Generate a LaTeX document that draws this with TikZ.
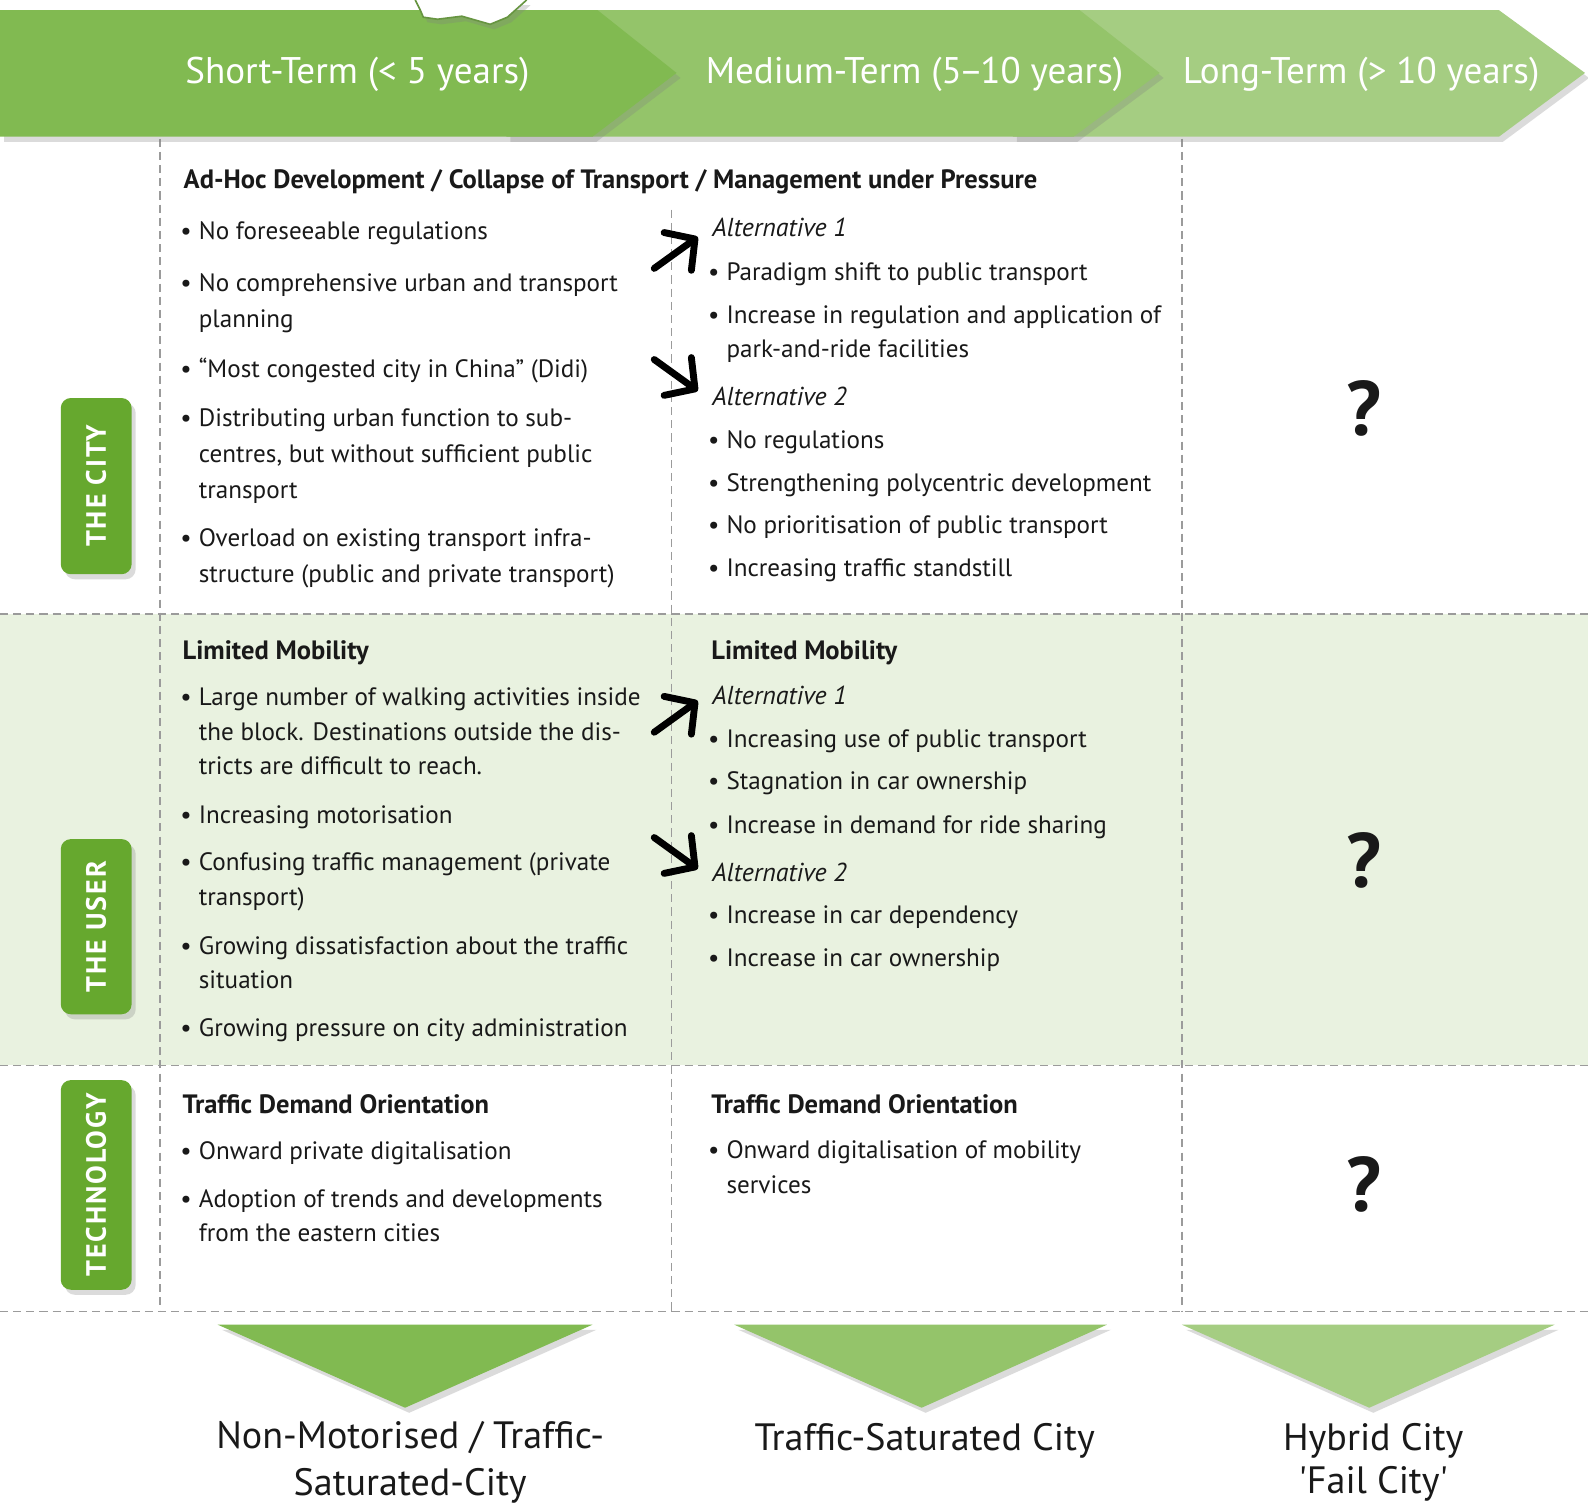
\documentclass[tikz,border=0pt]{standalone}
\usepackage{fontspec}
\setmainfont{PT Sans}
\newfontfamily\sidetagfont[LetterSpace=7]{PT Sans}
\usepackage{tikz}
\usetikzlibrary{arrows.meta, positioning, shadows}

\definecolor{shortgreen}{RGB}{129,186,81}
\definecolor{mediumgreen}{RGB}{148,196,106}
\definecolor{longgreen}{RGB}{165,205,130}
\definecolor{taggreen}{RGB}{102,168,46}
\definecolor{userbg}{RGB}{233,242,224}
\definecolor{gridgray}{RGB}{155,155,155}
\definecolor{ink}{RGB}{25,25,25}

\newcommand{\bul}{\llap{\textbullet\hspace{3.5pt}}}

\begin{document}
\begin{tikzpicture}[x=0.5pt, y=-0.5pt,
    softshadow/.style={drop shadow={opacity=0.28, shadow xshift=2pt, shadow yshift=-2.5pt}},
    gridline/.style={draw=gridgray, line width=0.8pt, dash pattern=on 4pt off 2.5pt},
    termtext/.style={text=white, inner sep=0pt, font=\fontsize{18.3}{21}\selectfont},
    sidetag/.style={fill=taggreen, rounded corners=5pt, softshadow, minimum height=35pt, rotate=90, text=white, font=\sidetagfont\bfseries\fontsize{13.8}{15}\selectfont},
    celltitle/.style={anchor=base west, inner sep=0pt, text=ink, font=\bfseries\fontsize{13.1}{17}\selectfont},
    % multi-line nodes sit on the baseline of their last line
    bullettext/.style={anchor=base west, inner sep=0pt, align=left, text=ink, font=\fontsize{12.4}{17}\selectfont},
    loosetext/.style={bullettext, font=\fontsize{12.4}{17.6}\selectfont},
    alttext/.style={bullettext, font=\itshape\fontsize{12.8}{17}\selectfont},
    qmark/.style={text=ink, inner sep=0pt, font=\bfseries\fontsize{38}{40}\selectfont},
    bigarrow/.style={line width=3.4pt, line cap=round, -{Straight Barb[length=10.5pt, width=23pt, round]}},
    outcome/.style={anchor=base, align=center, inner sep=0pt, text=ink, font=\fontsize{18.8}{24}\selectfont}
]

% Canvas and user row
\useasboundingbox (0,0) rectangle (1568,1487);
\fill[white] (0,0) rectangle (1568,1487);
\fill[userbg] (0,606) rectangle (1568,1052);

% Grid
\draw[gridline] (0,606) -- (1568,606);
\draw[gridline] (0,1052) -- (1568,1052);
\draw[gridline] (0,1295) -- (1568,1295);
\draw[gridline] (158,137) -- (158,1295);
\draw[gridline] (663,207) -- (663,1295);
\draw[gridline] (1167,137) -- (1167,1295);

% Time banner
\fill[longgreen, softshadow] (1000,10) -- (1480,10) -- (1565,72) -- (1480,135) -- (1000,135) -- cycle;
\fill[mediumgreen, softshadow] (500,10) -- (1066,10) -- (1145,72) -- (1060,135) -- (500,135) -- cycle;
\fill[shortgreen, softshadow] (0,10) -- (590,10) -- (668,72) -- (585,135) -- (0,135) -- cycle;
\fill[white, softshadow] (410,0) -- (415,10) -- (418,17) -- (432,19) -- (456,16) -- (484,24) -- (501,17) -- (520,0) -- cycle;
\draw[shortgreen!80!black, line width=0.8pt] (410,0) -- (415,10) -- (418,17) -- (432,19) -- (456,16) -- (484,24) -- (501,17) -- (520,0);

\node (short) [termtext] at (353,73) {Short-Term (< 5 years)};
\node (medium) [termtext] at (903,73) {Medium-Term (5\kern-1.5pt–\kern-1.5pt10 years)};
\node (long) [termtext] at (1344,73) {Long-Term (> 10 years)};

% Side tags
\node (city) [sidetag, minimum width=87pt] at (95,480) {THE CITY};
\node (user) [sidetag, minimum width=86.5pt] at (95,915) {THE USER};
\node (tech) [sidetag, minimum width=103.5pt] at (95,1170) {TECHNOLOGY};

% The city
\node (citytitle) [celltitle] at (181,186) {Ad-Hoc Development / Collapse of Transport / Management under Pressure};
\node (cs1) [loosetext] at (196,236) {\bul No foreseeable regulations};
\node (cs2) [loosetext] at (196,323) {\bul No comprehensive urban and transport\\planning};
\node (cs3) [loosetext] at (196,373) {\bul “Most congested city in China” (Didi)};
\node (cs4) [loosetext] at (196,492) {\bul Distributing urban function to sub-\\centres, but without sufficient public\\transport};
\node (cs5) [loosetext] at (196,575) {\bul Overload on existing transport infra-\\structure (public and private transport)};

\node (calt1) [alttext] at (703,234) {Alternative 1};
\node (cm1) [bullettext] at (717,277) {\bul Paradigm shift to public transport};
\node (cm2) [bullettext] at (717,353) {\bul Increase in regulation and application of\\park-and-ride facilities};
\node (calt2) [alttext] at (703,400) {Alternative 2};
\node (cm3) [bullettext] at (717,443) {\bul No regulations};
\node (cm4) [bullettext] at (717,485) {\bul Strengthening polycentric development};
\node (cm5) [bullettext] at (717,527) {\bul No prioritisation of public transport};
\node (cm6) [bullettext] at (717,569) {\bul Increasing traffic standstill};

\node (cityq) [qmark] at (1347,403) {?};

% The user
\node (usertitle1) [celltitle] at (180,651) {Limited Mobility};
\node (us1) [bullettext] at (196,765) {\bul Large number of walking activities inside\\the block. Destinations outside the dis-\\tricts are difficult to reach.};
\node (us2) [bullettext] at (196,813) {\bul Increasing motorisation};
\node (us3) [bullettext] at (196,894) {\bul Confusing traffic management (private\\transport)};
\node (us4) [bullettext] at (196,976) {\bul Growing dissatisfaction about the traffic\\situation};
\node (us5) [bullettext] at (196,1023) {\bul Growing pressure on city administration};

\node (usertitle2) [celltitle] at (702,651) {Limited Mobility};
\node (ualt1) [alttext] at (703,696) {Alternative 1};
\node (um1) [bullettext] at (717,738) {\bul Increasing use of public transport};
\node (um2) [bullettext] at (717,780) {\bul Stagnation in car ownership};
\node (um3) [bullettext] at (717,823) {\bul Increase in demand for ride sharing};
\node (ualt2) [alttext] at (703,870) {Alternative 2};
\node (um4) [bullettext] at (717,912) {\bul Increase in car dependency};
\node (um5) [bullettext] at (717,954) {\bul Increase in car ownership};

\node (userq) [qmark] at (1347,850) {?};

% Technology
\node (techtitle1) [celltitle] at (180,1099) {Traffic Demand Orientation};
\node (ts1) [bullettext] at (196,1145) {\bul Onward private digitalisation};
\node (ts2) [bullettext] at (196,1226) {\bul Adoption of trends and developments\\from the eastern cities};
\node (techtitle2) [celltitle] at (702,1099) {Traffic Demand Orientation};
\node (tm1) [bullettext] at (717,1178) {\bul Onward digitalisation of mobility\\services};

\node (techq) [qmark] at (1347,1170) {?};

% Branching arrows
\coordinate (cup0) at (646,265);  \coordinate (cup1) at (689,234);
\coordinate (cdn0) at (646,355);  \coordinate (cdn1) at (689,386);
\coordinate (uup0) at (646,723);  \coordinate (uup1) at (689,692);
\coordinate (udn0) at (646,827);  \coordinate (udn1) at (689,858);
\draw[bigarrow] (cup0) -- (cup1);
\draw[bigarrow] (cdn0) -- (cdn1);
\draw[bigarrow] (uup0) -- (uup1);
\draw[bigarrow] (udn0) -- (udn1);

% Outcomes
\fill[shortgreen, softshadow] (215,1308) -- (585,1308) -- (400,1390) -- cycle;
\fill[mediumgreen, softshadow] (725,1308) -- (1093,1308) -- (910,1390) -- cycle;
\fill[longgreen, softshadow] (1167,1308) -- (1535,1308) -- (1352,1390) -- cycle;

\node (nonmot) [outcome, font=\fontsize{18.8}{23.5}\selectfont] at (405,1477) {Non-Motorised / Traffic-\\Saturated-City};
\node (saturated) [outcome] at (913,1432) {Traffic-Saturated City};
\node (hybrid) [outcome, font=\fontsize{18.8}{21.5}\selectfont] at (1356,1475) {Hybrid City\\\textquotesingle Fail City\textquotesingle};

\end{tikzpicture}
\end{document}
